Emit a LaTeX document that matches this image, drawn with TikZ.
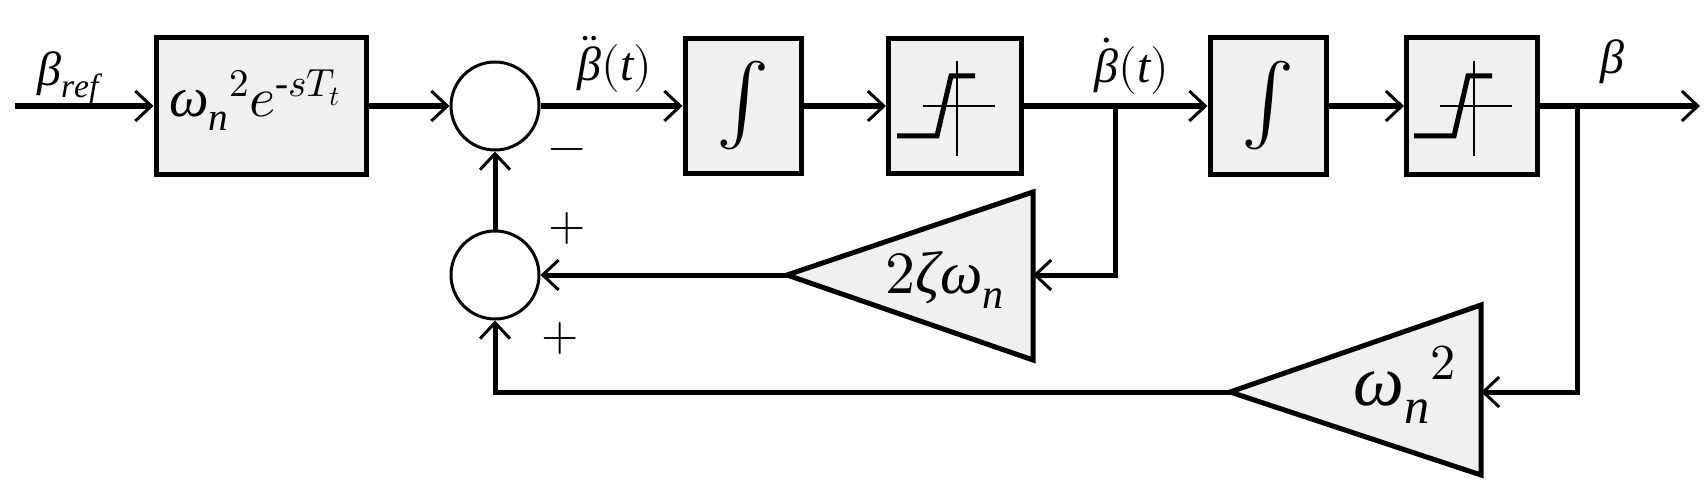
\documentclass[tikz,border=0pt]{standalone}
\usepackage{fontspec}
\setmainfont{Liberation Serif}
\usepackage{unicode-math}
\setmathfont{Latin Modern Math}
\usetikzlibrary{arrows.meta}
\begin{document}
\begin{tikzpicture}[x=1pt,y=-1pt,
  blk/.style={draw,line width=5pt,fill=gray!12,inner sep=0pt},
  sumn/.style={draw,line width=3pt,fill=white,circle,minimum size=88pt,inner sep=0pt},
  sig/.style={line width=6pt,-{Straight Barb[length=16pt,width=30pt,line width=3pt]}},
  fb/.style={line width=5pt,-{Straight Barb[length=16pt,width=30pt,line width=3pt]}},
  lab/.style={font=\fontsize{48}{50}\selectfont}]
\useasboundingbox (0,0) rectangle (1705,500);
\node[blk,minimum width=210pt,minimum height=136pt] (g) at (261,106) {};
\node[font=\fontsize{56}{58}\selectfont] at (255,100) {$\mathit{ω_n}^{2}e^{\text{-}sT_t}$};
\node[sumn] (s1) at (495,106) {};
\node[sumn] (s2) at (495,275) {};
\node[blk,minimum width=116pt,minimum height=135pt] (i1) at (743,106) {};
\node[font=\fontsize{80}{82}\selectfont] at (743,106) {$\int$};
\node[blk,minimum width=133pt,minimum height=135pt] (q1) at (955,106) {};
\node[blk,minimum width=116pt,minimum height=136pt] (i2) at (1268,106) {};
\node[font=\fontsize{80}{82}\selectfont] at (1268,106) {$\int$};
\node[blk,minimum width=131pt,minimum height=136pt] (q2) at (1472,106) {};
\foreach \q in {q1,q2}{
  \draw[line width=1.2pt] ([xshift=2pt,yshift=45pt]\q.center) -- ([xshift=2pt,yshift=-50pt]\q.center);
  \draw[line width=1.2pt] ([xshift=-32pt]\q.center) -- ([xshift=40pt]\q.center);
  \draw[line width=5pt] ([xshift=-58pt,yshift=-30pt]\q.center) -- ([xshift=-18pt,yshift=-30pt]\q.center)
     -- ([xshift=-4pt,yshift=30pt]\q.center) -- ([xshift=20pt,yshift=30pt]\q.center);
}
% triangles
\coordinate (t1a) at (787,275); \coordinate (t1r) at (1033,275);
\draw[blk] (t1a) -- (1033,192) -- (1033,360) -- cycle;
\node[font=\fontsize{60}{62}\selectfont] at (945,280) {$2\mathit{ζω_n}$};
\coordinate (t2a) at (1230,392); \coordinate (t2r) at (1481,392);
\draw[blk] (t2a) -- (1481,305) -- (1481,475) -- cycle;
\node[font=\fontsize{72}{74}\selectfont] at (1405,385) {$\mathit{ω_n}^{2}$};
% coordinates
\coordinate (in) at (15,106);
\coordinate (b1) at (1115,106);
\coordinate (b2) at (1577,106);
\coordinate (out) at (1700,106);
% signal path
\draw[sig] (in) -- (g.west);
\draw[sig] (g.east) -- (s1.west);
\draw[sig] (s1.east) -- (i1.west);
\draw[sig] (i1.east) -- (q1.west);
\draw[sig] (q1.east) -- (i2.west);
\draw[sig] (i2.east) -- (q2.west);
\draw[sig] (q2.east) -- (out);
\draw[line width=5pt] (b1) -- ++(0,169) coordinate (b1d);
\draw[fb] ([xshift=2.5pt]b1d) -- (t1r);
\draw[fb] (t1a) -- (s2.east);
\draw[line width=5pt] (b2) -- ++(0,286) coordinate (b2d);
\draw[fb] ([xshift=2.5pt]b2d) -- (t2r);
\draw[fb] (t2a) -- (s2.south |- t2a) -- (s2.south);
\draw[fb] (s2.north) -- (s1.south);
% labels
\node[lab] at (68,78) {$\mathit{β_{ref}}$};
\node[lab] at (615,64) {$\ddot{\mathit{β}}(\mathit{t})$};
\node[lab] at (1132,66) {$\dot{\mathit{β}}(\mathit{t})$};
\node[lab] at (1612,62) {$\mathit{β}$};
\node[lab] at (567,155) {$-$};
\node[lab] at (567,228) {$+$};
\node[lab] at (560,338) {$+$};
\end{tikzpicture}
\end{document}
